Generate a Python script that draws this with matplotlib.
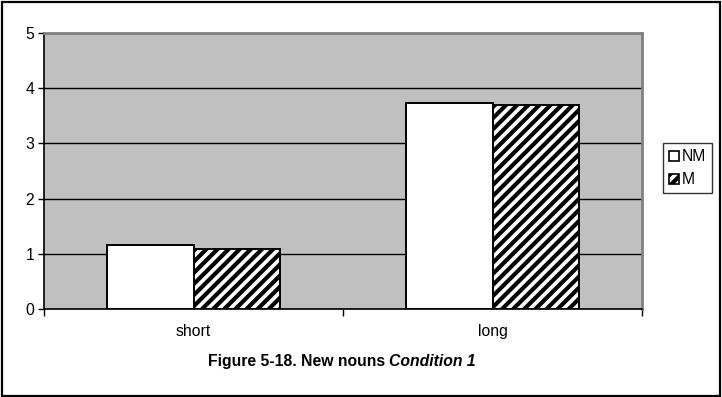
import matplotlib
matplotlib.use("Agg")
import matplotlib.pyplot as plt
import numpy as np
from matplotlib.patches import Patch, Rectangle
from matplotlib.ticker import FixedLocator

plt.rcParams['font.family'] = ['Liberation Sans', 'DejaVu Sans']
plt.rcParams['hatch.linewidth'] = 3.0

categories = ["short", "long"]
series_names = ["NM", "M"]
nm_values = [1.16, 3.74]
m_values = [1.08, 3.69]
y_ticks = [0, 1, 2, 3, 4, 5]

FS = 11.3
W, H = 722, 397
fig = plt.figure(figsize=(W / 100, H / 100), dpi=100)
fig.patch.set_facecolor("white")

# outer frame around the whole chart
fig.add_artist(Rectangle((1.5 / W, 1.5 / H), 1 - 3.5 / W, 1 - 3.5 / H,
                         transform=fig.transFigure, fill=False,
                         edgecolor="black", linewidth=1.6))

ax = fig.add_axes([44 / W, 1 - 309 / H, (642 - 44) / W, (309 - 33) / H])
ax.set_facecolor("#C0C0C0")

x = np.arange(len(categories))
bw = 0.29
ax.bar(x - bw / 2, nm_values, bw, color="white", edgecolor="black",
       linewidth=1.4, zorder=3)
ax.bar(x + bw / 2, m_values, bw, color="white", edgecolor="black",
       hatch="///", linewidth=1.4, zorder=3)

ax.set_xlim(-0.5, len(categories) - 0.5)
ax.set_ylim(0, 5)
ax.set_yticks(y_ticks)
ax.set_yticklabels([str(t) for t in y_ticks], fontsize=FS)
ax.yaxis.grid(True, color="black", linewidth=1.0, zorder=1)
ax.set_axisbelow(True)

ax.set_xticks(x)
ax.set_xticklabels(categories, fontsize=FS)
ax.tick_params(axis="x", which="major", length=0, pad=11)
ax.xaxis.set_minor_locator(FixedLocator(np.arange(-0.5, len(categories), 1.0)))
ax.tick_params(axis="x", which="minor", length=5, width=1, color="black")
ax.tick_params(axis="y", length=4, width=1, color="black", pad=3)

for side in ("top", "right"):
    ax.spines[side].set_color("#808080")
    ax.spines[side].set_linewidth(2.0)
for side in ("left", "bottom"):
    ax.spines[side].set_color("black")
    ax.spines[side].set_linewidth(1.2)

handles = [Patch(facecolor="white", edgecolor="black", linewidth=1.2),
           Patch(facecolor="white", edgecolor="black", hatch="///", linewidth=1.2)]
leg = fig.legend(handles, series_names, loc="upper left",
                 bbox_to_anchor=(663 / W, 1 - 143 / H), fontsize=FS,
                 frameon=True, fancybox=False, handlelength=0.6,
                 handleheight=0.6, handletextpad=0.2, borderpad=0.4,
                 labelspacing=0.5, borderaxespad=0)
leg.get_frame().set_edgecolor("black")
leg.get_frame().set_linewidth(1.0)

# caption: bold part followed by bold-italic part, centred under the axes
fig.canvas.draw()
renderer = fig.canvas.get_renderer()
base_y = 1 - 366 / H
t1 = fig.text(0, base_y, "Figure 5-18. New nouns ", fontsize=FS,
              fontweight="bold", va="baseline", ha="left")
t2 = fig.text(0, base_y, "Condition 1", fontsize=FS,
              fontweight="bold", style="italic", va="baseline", ha="left")
w1 = t1.get_window_extent(renderer).width
w2 = t2.get_window_extent(renderer).width
cx = 342
start = cx - (w1 + w2) / 2
t1.set_x(start / W)
t2.set_x((start + w1) / W)

fig.savefig("out.png", dpi=100, facecolor="white")
